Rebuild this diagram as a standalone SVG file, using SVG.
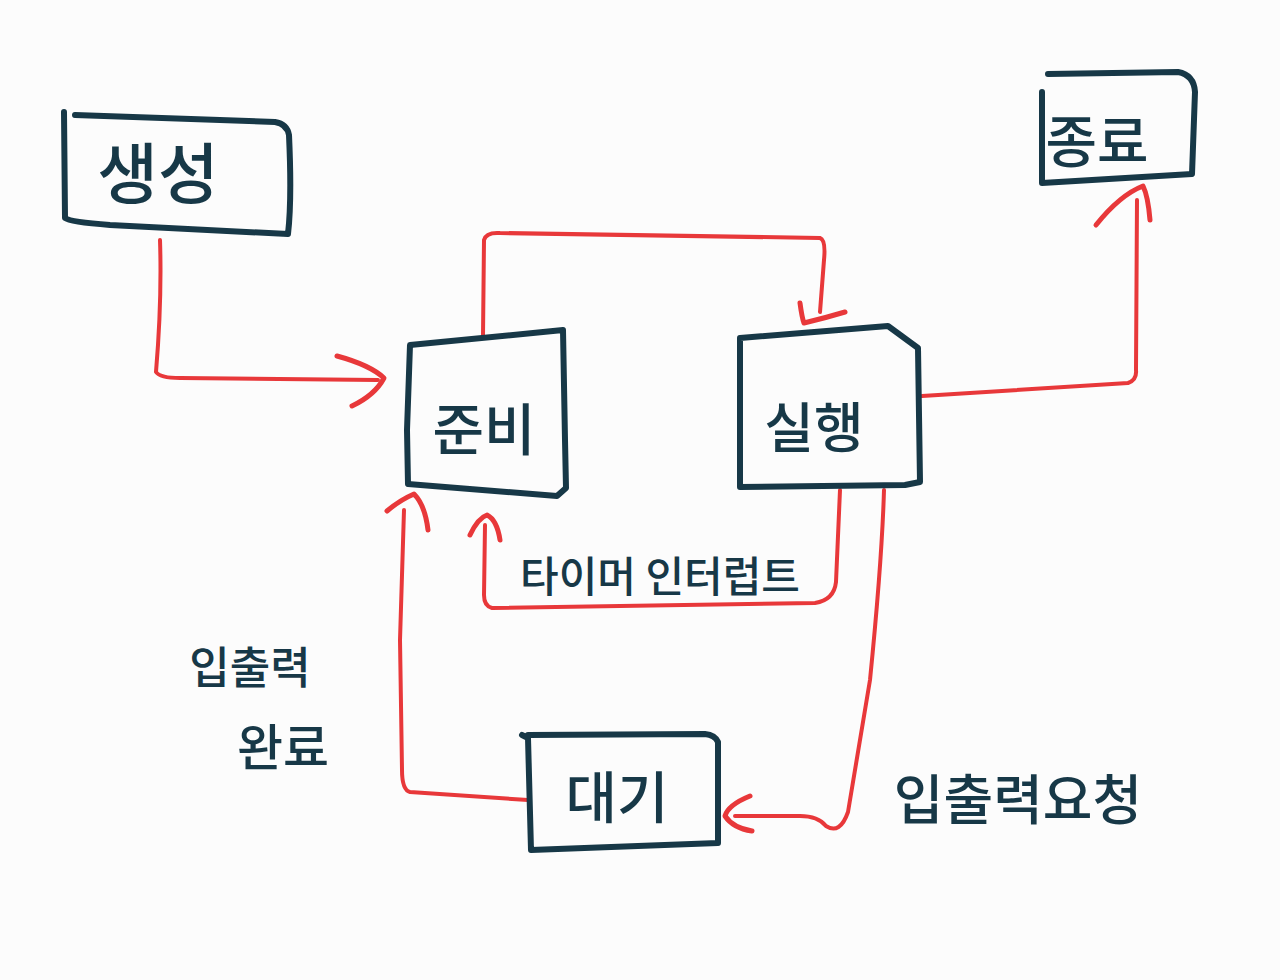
<svg xmlns="http://www.w3.org/2000/svg" width="1280" height="980" viewBox="0 0 1280 980">
<style>
.box{fill:none;stroke:#173847;stroke-width:6;stroke-linecap:round;stroke-linejoin:round}
.wire{fill:none;stroke:#e8383a;stroke-width:4;stroke-linecap:round;stroke-linejoin:round}
.head{fill:none;stroke:#e8383a;stroke-width:5;stroke-linecap:round;stroke-linejoin:round}
.lbl{font-family:"Noto Sans CJK KR","Noto Sans",sans-serif;fill:#173847;font-weight:500}
</style>
<rect width="1280" height="980" fill="#fcfcfc"/>
<g id="connectors">
  <!-- 생성 -> 준비 -->
  <path class="wire" d="M160,240 Q162,300 156,372 Q160,378 180,378 L378,380"/>
  <path class="head" d="M337,356 Q370,365 384,378 Q375,395 352,406"/>
  <!-- 준비 -> 실행 -->
  <path class="wire" d="M483,336 L484,240 Q486,232 500,233 L820,238 Q826,240 824,260 L820,312"/>
  <path class="head" d="M800,303 Q802,318 804,323 Q825,318 845,312"/>
  <!-- 실행 -> 종료 -->
  <path class="wire" d="M922,396 L1128,383 Q1137,380 1136,370 L1137,200"/>
  <path class="head" d="M1096,225 Q1120,195 1143,186 Q1148,196 1150,220"/>
  <!-- 실행 -> 준비 (타이머 인터럽트) -->
  <path class="wire" d="M840,490 L836,582 Q834,600 815,603 L492,608 Q484,606 484,595 L485,525"/>
  <path class="head" d="M470,535 Q478,518 487,515 Q497,520 500,540"/>
  <!-- 실행 -> 대기 (입출력요청) -->
  <path class="wire" d="M884,490 Q882,560 870,680 L848,812 Q840,835 826,826 Q818,816 800,816 L735,816"/>
  <path class="head" d="M750,796 Q728,805 725,816 Q733,828 752,831"/>
  <!-- 대기 -> 준비 (입출력 완료) -->
  <path class="wire" d="M528,800 L410,792 Q402,790 402,770 L400,640 L404,510"/>
  <path class="head" d="M387,511 Q400,500 414,494 Q425,505 428,530"/>
</g>
<g id="node-create">
  <path class="box" d="M64,112 L65,218 Q70,222 110,225 L288,234 Q292,200 289,135 Q287,124 275,122 L75,115"/>
  <text class="lbl" x="158" y="198" font-size="66" text-anchor="middle">생성</text>
</g>
<g id="node-ready">
  <path class="box" d="M410,345 L563,330 L565,440 L566,488 L557,496 L408,484 L407,430 Z"/>
  <text class="lbl" x="484" y="450" font-size="56" text-anchor="middle">준비</text>
</g>
<g id="node-running">
  <path class="box" d="M740,338 L888,326 L918,348 L920,482 L905,485 L740,487 Z"/>
  <text class="lbl" x="814" y="448" font-size="54" text-anchor="middle">실행</text>
</g>
<g id="node-exit">
  <path class="box" d="M1042,92 L1042,183 L1192,174 L1195,92 Q1194,75 1178,72 L1048,74"/>
  <text class="lbl" x="1097" y="162" font-size="56" text-anchor="middle">종료</text>
</g>
<g id="node-wait">
  <path class="box" d="M522,735 L528,738 L531,850 L718,843 L718,742 Q715,735 705,734 L528,735"/>
  <text class="lbl" x="617" y="818" font-size="56" text-anchor="middle">대기</text>
</g>
<g id="labels">
  <text class="lbl" x="660" y="592" font-size="42" text-anchor="middle">타이머 인터럽트</text>
  <text class="lbl" x="250" y="684" font-size="44" text-anchor="middle">입출력</text>
  <text class="lbl" x="283" y="766" font-size="50" text-anchor="middle">완료</text>
  <text class="lbl" x="1018" y="820" font-size="54" text-anchor="middle">입출력요청</text>
</g>
</svg>
